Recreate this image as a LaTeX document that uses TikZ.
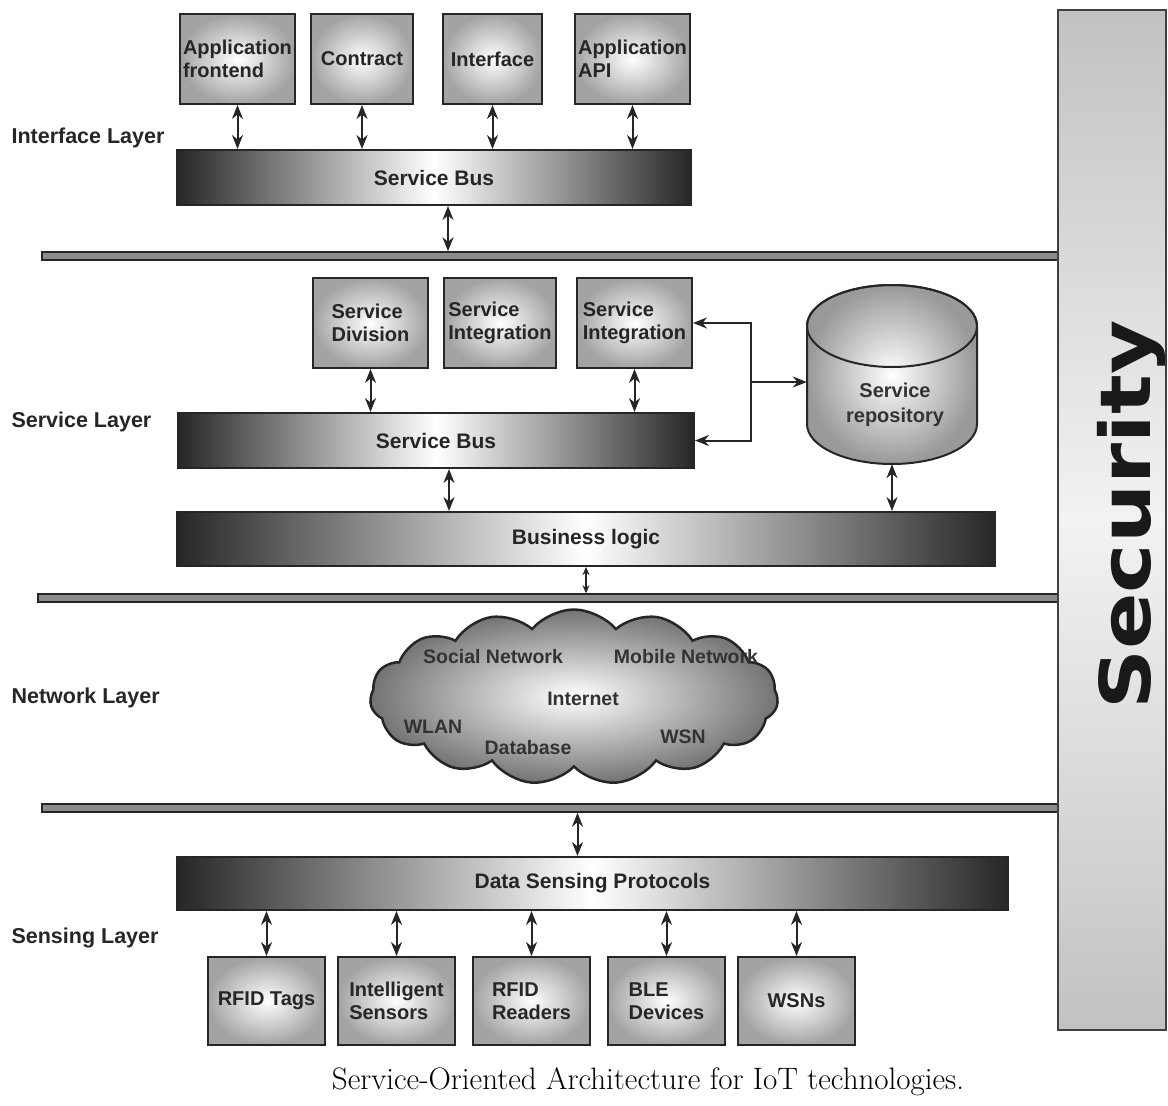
\documentclass[tikz,border=0pt]{standalone}
\usepackage{amsmath}
\usepackage{graphicx}
\usepackage{fontspec}
\setsansfont{Liberation Sans}
\newfontfamily\secfont{DejaVu Sans}
\usepackage{tikz}
\usetikzlibrary{arrows, arrows.meta, shapes.symbols}
\pgfdeclareverticalshading{secshade}{100bp}{color(0bp)=(black!24); color(25bp)=(black!24); color(50bp)=(black!5); color(75bp)=(black!24); color(100bp)=(black!24)}

\begin{document}
\begin{tikzpicture}[x=1pt, y=-1pt,
	box/.style={draw=black!85, line width=2pt, inner color=white, outer color=black!36, text=black!85, align=left, inner sep=2pt, font=\fontsize{20}{23}\selectfont\sffamily\bfseries},
	bus/.style={draw=black!85, line width=2pt, left color=black!85, right color=black!85, middle color=white, text=black!85, font=\fontsize{21}{24}\selectfont\sffamily\bfseries},
	sepbar/.style={draw=black!85, line width=1.5pt, fill=black!45, minimum height=8pt, inner sep=0pt},
	layer/.style={anchor=west, black!85, font=\fontsize{21.5}{24}\selectfont\sffamily\bfseries},
	net/.style={black!80, font=\fontsize{19.5}{22}\selectfont\sffamily\bfseries},
	dbl/.style={{Stealth[length=14pt,width=11pt]}-{Stealth[length=14pt,width=11pt]}, line width=2pt, black!85},
	dblsmall/.style={{Stealth[length=8pt,width=7pt]}-{Stealth[length=8pt,width=7pt]}, line width=1.5pt, black!85},
	one/.style={-{Stealth[length=14pt,width=11pt]}, line width=2pt, black!85}]
	\useasboundingbox (0,0) rectangle (1168,1106);

	% layer separators and security column
	\node[sepbar, minimum width=1016pt] (sep1) at (550,256) {};
	\node[sepbar, minimum width=1020pt] (sep2) at (548,598) {};
	\node[sepbar, minimum width=1016pt] (sep3) at (550,808) {};
	\node[draw=black!75, line width=2pt, shading=secshade, minimum width=108pt, minimum height=1020pt, inner sep=0pt] (sec) at (1112,520) {};
	\node[rotate=90, anchor=base, black!90, font=\secfont\bfseries\fontsize{70}{70}\selectfont] (sectxt) at (1150,515) {\scalebox{1.19}[1]{Security}};

	% interface layer
	\node[layer] (lint) at (8,138) {Interface Layer};
	\node[box, minimum width=115pt, minimum height=90pt] (fe) at (237.5,59) {Application\\frontend};
	\node[box, minimum width=102pt, minimum height=90pt] (ct) at (362,59) {Contract};
	\node[box, minimum width=99pt, minimum height=90pt] (if) at (492.5,59) {Interface};
	\node[box, minimum width=115pt, minimum height=90pt] (api) at (632.5,59) {Application\\API};
	\node[bus, minimum width=514pt, minimum height=55pt] (ibus) at (434,177.5) {Service Bus};
	\foreach \b in {fe,ct,if,api}
		\draw[dbl] (\b.south) -- (\b.south |- ibus.north);
	\draw[dbl] ([xshift=14pt]ibus.south) -- ([xshift=14pt]ibus.south |- sep1.north);

	% service layer
	\node[layer] (lsrv) at (8,422) {Service Layer};
	\node[box, minimum width=115pt, minimum height=90pt] (sd) at (370.5,323) {Service\\Division};
	\node[box, minimum width=112pt, minimum height=90pt] (si1) at (500,323) {Service\\Integration};
	\node[box, minimum width=115pt, minimum height=90pt] (si2) at (634.5,323) {Service\\Integration};
	\node[bus, minimum width=516pt, minimum height=55pt] (sbus) at (436,440.5) {Service Bus};
	\node[bus, minimum width=818pt, minimum height=54pt] (biz) at (586,539) {Business logic};
	\shade[draw=black!85, line width=2pt, inner color=white, outer color=black!40] (807,326) -- (807,424) arc[start angle=180, end angle=0, x radius=85, y radius=40] -- (977,326) arc[start angle=0, end angle=-180, x radius=85, y radius=41] -- cycle;	%cylinder body
	\draw[black!85, line width=2pt] (892,326) ellipse [x radius=85, y radius=41];	%cylinder top
	\node[minimum width=170pt, minimum height=179pt, inner sep=0pt] (repo) at (892,374.5) {};
	\node[black!80, align=center, font=\fontsize{20}{25}\selectfont\sffamily\bfseries] (repotxt) at (895,405) {Service\\repository};
	\draw[dbl] (sd.south) -- (sd.south |- sbus.north);
	\draw[dbl] (si2.south) -- (si2.south |- sbus.north);
	\coordinate (junc) at (751,382);
	\draw[one] (junc) |- (si2.east);
	\draw[one] (junc) |- (sbus.east);
	\draw[one] (junc) -- (junc -| repo.west);
	\draw[dbl] ([xshift=13pt]sbus.south) -- ([xshift=13pt]sbus.south |- biz.north);
	\draw[dbl] (repo.south) -- (repo.south |- biz.north);
	\draw[dblsmall] (biz.south) -- (biz.south |- sep2.north);

	% network layer
	\node[layer] (lnet) at (8,698) {Network Layer};
	\node[cloud, cloud puffs=15, cloud puff arc=100, aspect=2.3, draw=black!85, line width=2.5pt, inner color=white, outer color=black!55, minimum width=408pt, minimum height=175pt] (cloud) at (574,697) {};
	\node[net] (soc) at (493,657) {Social Network};
	\node[net] (mob) at (686,657) {Mobile Network};
	\node[net] (inet) at (583,699) {Internet};
	\node[net] (wlan) at (433,727) {WLAN};
	\node[net] (db) at (528,748) {Database};
	\node[net] (wsn) at (683,737) {WSN};

	% sensing layer
	\node[layer] (lsen) at (8,938) {Sensing Layer};
	\node[bus, minimum width=831pt, minimum height=53pt] (dsp) at (592.5,883.5) {Data Sensing Protocols};
	\draw[dbl] ([xshift=-15pt]dsp.north |- sep3.south) -- ([xshift=-15pt]dsp.north);
	\node[box, minimum width=117pt, minimum height=88pt] (rt) at (266.5,1001) {RFID Tags};
	\node[box, minimum width=117pt, minimum height=88pt] (is) at (396.5,1001) {Intelligent\\Sensors};
	\node[box, minimum width=117pt, minimum height=88pt] (rr) at (531.5,1001) {RFID\\Readers};
	\node[box, minimum width=117pt, minimum height=88pt] (ble) at (666.5,1001) {BLE\\Devices};
	\node[box, minimum width=117pt, minimum height=88pt] (wsns) at (796.5,1001) {WSNs};
	\foreach \b in {rt,is,rr,ble,wsns}
		\draw[dbl] (\b.north |- dsp.south) -- (\b.north);

	\node[font=\fontsize{31}{33}\selectfont] (cap) at (648,1082) {Service-Oriented Architecture for IoT technologies.};
\end{tikzpicture}
\end{document}
